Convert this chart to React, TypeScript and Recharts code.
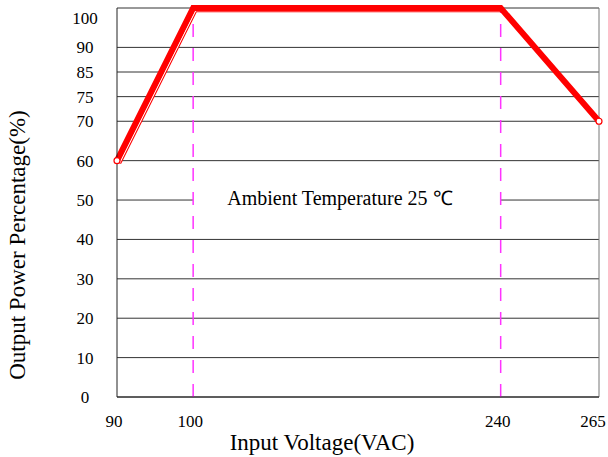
import React from 'react';
import { LineChart, Line, XAxis, YAxis, CartesianGrid, ReferenceLine, ReferenceArea, Label } from 'recharts';

// tick values and where they sit on the (non-linear) axes
const xTicks = [90, 100, 240, 265];
const xSlots = [0, 0.158, 0.796, 1];
const yTicks = [0, 10, 20, 30, 40, 50, 60, 70, 75, 85, 90, 100];
const ySlots = [0, 1, 2, 3, 4, 5, 6, 7, 7.625, 8.25, 8.875, 9.875];

// derating curve
const voltage = [90, 100, 240, 265];
const power = [60, 100, 100, 70];
const outlineUntil = 240;

const dashedAt = [100, 240];
const noteBand = [46.5, 53.5];
const noteText = 'Ambient Temperature 25 ℃';

const FONT = '"Liberation Serif", "Times New Roman", serif';

const interp = (v: number, from: number[], to: number[]) => {
  for (let i = 0; i < from.length - 1; i++) {
    if (v <= from[i + 1]) {
      const t = (v - from[i]) / (from[i + 1] - from[i]);
      return to[i] + t * (to[i + 1] - to[i]);
    }
  }
  return to[to.length - 1];
};
const toX = (v: number) => interp(v, xTicks, xSlots);
const toY = (v: number) => interp(v, yTicks, ySlots);

const data = voltage.map((v, i) => ({
  x: toX(v),
  y: toY(power[i]),
  outline: v <= outlineUntil ? toY(power[i]) : null,
}));

const YTick = (props: any) => {
  const { x, y, payload } = props;
  const idx = ySlots.indexOf(payload.value);
  const isTop = idx === ySlots.length - 1;
  return (
    <text x={x - 30} y={y + (isTop ? 9 : 0)} dy="0.35em" textAnchor="middle" style={{ fontFamily: FONT }} fontSize={17} fill="#000">
      {yTicks[idx]}
    </text>
  );
};

const XTick = (props: any) => {
  const { x, y, payload } = props;
  const idx = xSlots.indexOf(payload.value);
  const dx = idx === xSlots.length - 1 ? -6 : -3;
  return (
    <text x={x + dx} y={y + 22} dy="0.35em" textAnchor="middle" style={{ fontFamily: FONT }} fontSize={17} fill="#000">
      {xTicks[idx]}
    </text>
  );
};

const EndDot = (props: any) => {
  const { cx, cy, index } = props;
  if (index !== 0 && index !== data.length - 1) return <g key={index} />;
  return <circle key={index} cx={cx} cy={cy} r={3} fill="#fff" stroke="#ff0000" strokeWidth={1.2} />;
};

export default function App() {
  return (
    <div style={{ position: 'absolute', left: 0, top: 0, width: 608, height: 457, background: '#fff' }}>
      <LineChart width={608} height={457} data={data} margin={{ top: 8, right: 9, bottom: 0, left: 0 }}>
        <CartesianGrid vertical={false} stroke="#333" strokeWidth={1} />
        <XAxis
          dataKey="x"
          type="number"
          domain={[0, 1]}
          ticks={xSlots}
          height={60}
          tickLine={false}
          tickSize={0}
          axisLine={{ stroke: '#222' }}
          tick={<XTick />}
        >
          <Label
            content={({ viewBox }: any) => (
              <text x={viewBox.x + viewBox.width / 2 - 36} y={viewBox.y + 53} textAnchor="middle" fontFamily={FONT} fontSize={23} fill="#000">
                Input Voltage(VAC)
              </text>
            )}
          />
        </XAxis>
        <YAxis
          type="number"
          domain={[0, ySlots[ySlots.length - 1]]}
          ticks={ySlots}
          width={117}
          tickLine={false}
          tickSize={0}
          axisLine={{ stroke: '#222' }}
          tick={<YTick />}
        >
          <Label
            content={() => (
              <text transform="translate(25,245) rotate(-90)" textAnchor="middle" fontFamily={FONT} fontSize={23} fill="#000">
                Output Power Percentage(%)
              </text>
            )}
          />
        </YAxis>
        <ReferenceLine x={1} stroke="#777" strokeWidth={1} />
        <ReferenceArea
          x1={toX(dashedAt[0])}
          x2={toX(dashedAt[1])}
          y1={toY(noteBand[0])}
          y2={toY(noteBand[1])}
          fill="#fff"
          fillOpacity={1}
          stroke="none"
          label={{
            content: ({ viewBox }: any) => (
              <text x={viewBox.x + viewBox.width / 2 - 7} y={viewBox.y + viewBox.height / 2 + 5} textAnchor="middle" fontFamily={FONT} fontSize={20} fill="#000">
                {noteText}
              </text>
            ),
          }}
        />
        {dashedAt.map((v) => (
          <ReferenceLine key={v} x={toX(v)} stroke="#ff33ff" strokeWidth={1.5} strokeDasharray="13 11" />
        ))}
        <Line dataKey="outline" stroke="#ff0000" strokeWidth={3.4} dot={false} transform="translate(2.5,2.5)" isAnimationActive={false} />
        <Line dataKey="outline" stroke="#ffffff" strokeWidth={1.3} dot={false} transform="translate(2.5,2.5)" isAnimationActive={false} />
        <Line dataKey="y" stroke="#ff0000" strokeWidth={6} dot={<EndDot />} activeDot={false} isAnimationActive={false} />
      </LineChart>
    </div>
  );
}
